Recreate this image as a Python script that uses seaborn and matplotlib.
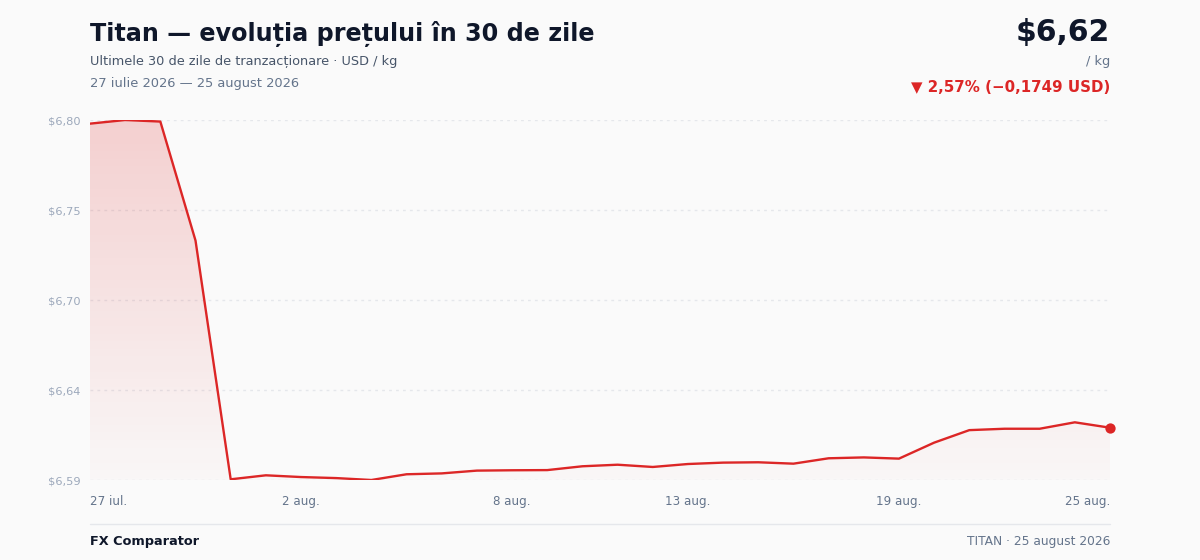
import numpy as np
import pandas as pd
import matplotlib
matplotlib.use("Agg")
import matplotlib.pyplot as plt
import seaborn as sns
from matplotlib.colors import LinearSegmentedColormap

# ---------------- data ----------------
start_date = "2026-07-27"
prices = [6.7970, 6.7991, 6.7982, 6.7297, 6.5923, 6.5946, 6.5936, 6.5930,
          6.5919, 6.5952, 6.5957, 6.5973, 6.5975, 6.5976, 6.5998, 6.6007,
          6.5994, 6.6011, 6.6019, 6.6021, 6.6013, 6.6044, 6.6049, 6.6042,
          6.6134, 6.6206, 6.6214, 6.6214, 6.6251, 6.6220]
x_tick_labels = ["27 iul.", "2 aug.", "8 aug.", "13 aug.", "19 aug.", "25 aug."]
y_tick_labels = ["$6,59", "$6,64", "$6,70", "$6,75", "$6,80"]

title = "Titan — evoluția prețului în 30 de zile"
subtitle = "Ultimele 30 de zile de tranzacționare · USD / kg"
date_range_txt = "27 iulie 2026 — 25 august 2026"
price_txt = "$6,62"
unit_txt = "/ kg"
change_txt = "▼ 2,57% (−0,1749 USD)"
brand_txt = "FX Comparator"
footer_txt = "TITAN · 25 august 2026"

# ---------------- styling ----------------
BG = "#fafafa"
RED = "#dc2626"
DARK = "#0f172a"
GRAY = "#475569"
LIGHT = "#64748b"
TICK_Y = "#9ca8bb"

sns.set_theme(style="white")
plt.rcParams["font.family"] = ["DejaVu Sans"]

dates = pd.date_range(start_date, periods=len(prices), freq="D")
df = pd.DataFrame({"day": np.arange(len(prices)), "price": prices, "date": dates})

fig = plt.figure(figsize=(12, 5.6), dpi=100, facecolor=BG)
ax = fig.add_axes([0.075, 80 / 560, 0.85, 360 / 560])
ax.set_facecolor(BG)

ymin, ymax = min(prices), max(prices)
n = len(prices)

# gradient area under the curve
poly = ax.fill_between(df["day"], df["price"], ymin, color="none", lw=0)
cmap = LinearSegmentedColormap.from_list(
    "g", [(0.862, 0.149, 0.149, 0.015), (0.862, 0.149, 0.149, 0.20)])
grad = np.linspace(0, 1, 256).reshape(-1, 1)
img = ax.imshow(grad, cmap=cmap, aspect="auto", origin="lower",
                extent=[0, n - 1, ymin, ymax], zorder=1, interpolation="bicubic")
path = poly.get_paths()[0]
img.set_clip_path(path, transform=ax.transData)

sns.lineplot(data=df, x="day", y="price", ax=ax, color=RED, lw=1.7, zorder=3)
ax.scatter(df["day"].iloc[-1], df["price"].iloc[-1], s=55, color=RED, zorder=4,
           lw=0, clip_on=False)

ax.set_xlim(0, n - 1)
ax.set_ylim(ymin, ymax)

yt = np.linspace(ymin, ymax, len(y_tick_labels))
ax.set_yticks(yt)
ax.set_yticklabels(y_tick_labels, color=TICK_Y, fontsize=8.2)
xt = np.round(np.linspace(0, n - 1, len(x_tick_labels))).astype(int)
ax.set_xticks(xt)
ax.set_xticklabels(x_tick_labels, color=LIGHT, fontsize=8.6)
xl = ax.get_xticklabels()
xl[0].set_ha("left")
xl[-1].set_ha("right")
ax.tick_params(axis="x", length=0, pad=11)
ax.tick_params(axis="y", length=0, pad=7)
ax.grid(axis="y", color="#e5e7eb", lw=1, ls=(0, (2, 3)))
ax.grid(axis="x", visible=False)
for s in ax.spines.values():
    s.set_visible(False)
ax.set_xlabel("")
ax.set_ylabel("")

# ---------------- texts ----------------
def fx(px):
    return px / 1200

def fy(py):
    return 1 - py / 560

fig.text(fx(90), fy(34), title, fontsize=17.2, fontweight="bold", color=DARK,
         ha="left", va="center")
fig.text(fx(90), fy(61), subtitle, fontsize=9.3, color=GRAY, ha="left", va="center")
fig.text(fx(90), fy(83), date_range_txt, fontsize=9.4, color=LIGHT, ha="left", va="center")
fig.text(fx(1110), fy(32), price_txt, fontsize=21.5, fontweight="bold", color=DARK,
         ha="right", va="center")
fig.text(fx(1110), fy(61), unit_txt, fontsize=9.3, color=LIGHT, ha="right", va="center")
fig.text(fx(1110), fy(87), change_txt, fontsize=10.8, fontweight="bold", color=RED,
         ha="right", va="center")

fig.add_artist(plt.Line2D([fx(90), fx(1110)], [fy(523.5), fy(523.5)],
                          color="#e5e7eb", lw=1, transform=fig.transFigure))
fig.text(fx(90), fy(541), brand_txt, fontsize=9.3, fontweight="bold", color=DARK,
         ha="left", va="center")
fig.text(fx(1110), fy(541), footer_txt, fontsize=8.8, color=LIGHT, ha="right", va="center")

fig.savefig("out.png", dpi=100, facecolor=BG)
